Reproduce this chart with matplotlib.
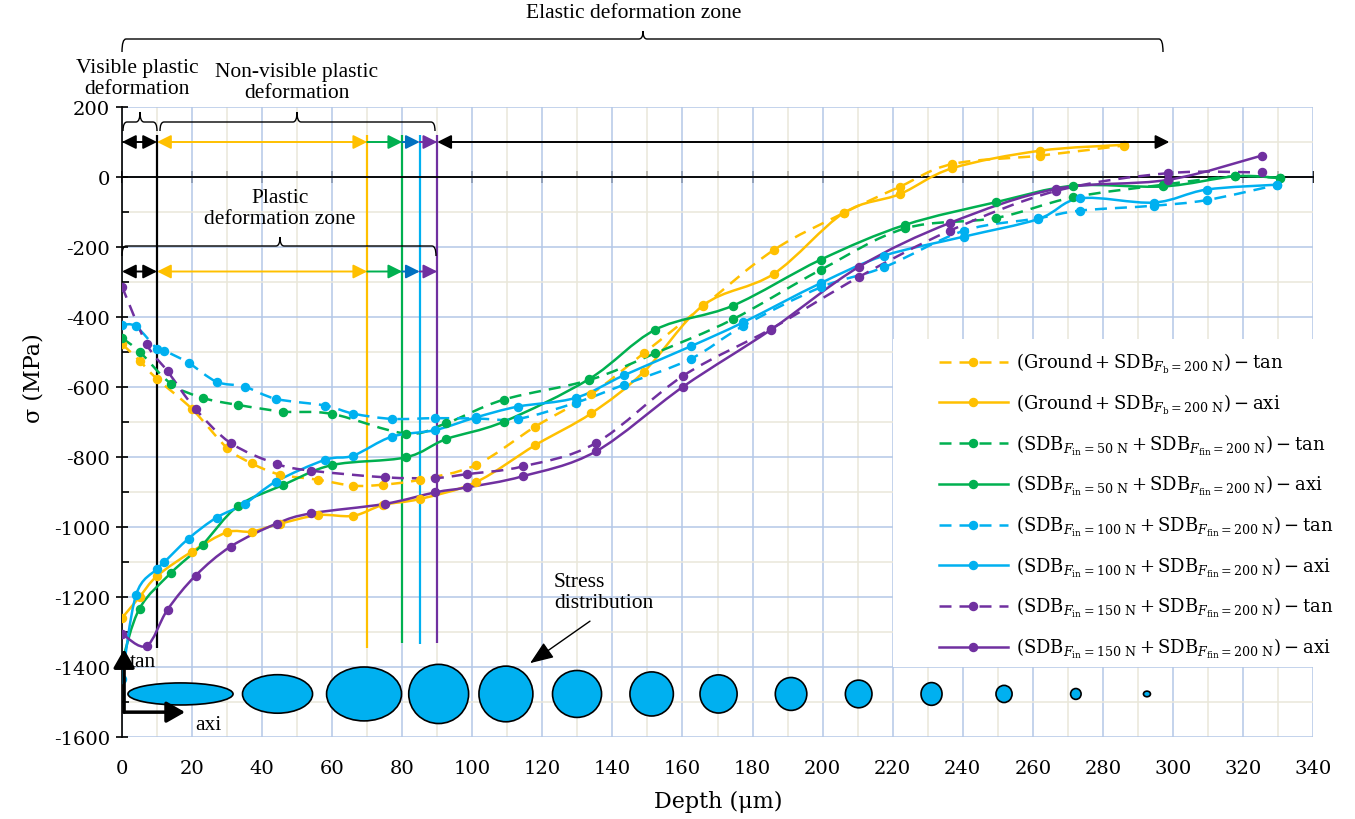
import numpy as np
import matplotlib
matplotlib.use("Agg")
import matplotlib.pyplot as plt
from matplotlib.path import Path
from matplotlib.patches import PathPatch, Ellipse, Rectangle
from matplotlib.lines import Line2D

plt.rcParams['font.family'] = 'DejaVu Serif'
plt.rcParams['mathtext.fontset'] = 'dejavuserif'
plt.rcParams['axes.unicode_minus'] = False

# ---- data (depth in um, residual stress in MPa) ----
ground_x = [0, 5, 10, 20, 30, 37, 45, 56, 66, 74.5, 85, 101, 118, 134, 149, 166,
            186, 206, 222, 237, 262, 286]
ground_tan = [-477, -525, -577, -663, -774, -818, -850, -865, -882, -879, -865, -823,
              -713, -620, -503, -368, -209, -103, -28, 37, 61, 90]
ground_axi = [-1260, -1200, -1140, -1070, -1015, -1013, -991, -966, -968, -937, -920,
              -872, -766, -675, -556, -366, -277, -103, -49, 25, 75, 92]

f50_x = [0, 5, 14, 23, 33, 46, 60, 81, 92.5, 109, 133.4, 152.3, 174.3, 199.5, 223.5,
         249.5, 271.5, 297.3, 317.7, 330.6]
f50_tan = [-460, -499, -591, -631, -651, -670, -677, -733, -704, -636, -580, -503, -407,
           -265, -147, -117, -58, -22, 2, -3]
f50_axi = [-1385, -1233, -1131, -1050, -941, -880, -823, -801, -749, -699, -577, -436,
           -368, -236, -137, -72, -25, -27, 2, -3]

f100_x = [0, 4, 10, 12, 19, 27, 35, 44, 58, 66, 77, 89.4, 101, 113, 129.5, 143.4, 162.3,
          177.4, 199.5, 217.5, 240.5, 261.6, 273.5, 294.6, 309.6, 329.6]
f100_tan = [-422, -427, -491, -496, -531, -585, -599, -634, -653, -676, -691, -689, -690,
            -691, -645, -593, -520, -425, -315, -258, -153, -118, -96, -82, -66, -23]
f100_axi = [-1435, -1194, -1120, -1101, -1033, -973, -934, -870, -808, -796, -742, -723,
            -687, -656, -631, -566, -484, -415, -303, -225, -170, -120, -61, -73, -36, -22]

f150_x = [0, 7, 13, 21, 31, 44.2, 54, 75, 89.4, 98.4, 114.4, 135.3, 160.2, 185.3, 210.5,
          236.4, 266.6, 298.7, 325.3]
f150_tan = [-313, -477, -555, -663, -760, -820, -839, -858, -860, -849, -827, -760, -568,
            -434, -285, -153, -40, 11, 13]
f150_axi = [-1305, -1340, -1236, -1139, -1056, -990, -961, -934, -901, -887, -855, -784,
            -599, -436, -256, -131, -34, -8, 61]

# zone limits (um)
zone_x = [10, 70, 80, 85, 90]
zone_colors = ['black', '#FFC000', '#00B050', '#00B0F0', '#7030A0']
zone_bottom = [-1345, -1345, -1330, -1333, -1330]
elastic_end = 299

# stress distribution ellipses
ell_x = [16.7, 44.4, 69.1, 90.4, 109.6, 129.9, 151.2, 170.3, 191, 210.3, 231.1, 251.8, 272.3, 292.6]
ell_w = [30.0, 20.0, 21.4, 17.1, 15.4, 14.0, 12.4, 10.6, 9.0, 7.6, 6.0, 4.6, 3.0, 2.0]
ell_h = [63, 110, 154, 169, 159, 134, 126, 109, 94, 79, 65, 49, 31, 16]

YEL, GRN, CYA, PUR, BLU = '#FFC000', '#00B050', '#00B0F0', '#7030A0', '#0070C0'
DASH = (0, (4.8, 3.2))
SERIF = 'Liberation Serif'

W, H = 1355, 820


def fpx(x, y):
    # reference pixel (top-left origin) -> figure fraction
    return (x / W, 1 - y / H)


def smooth_path(xs, ys):
    # Excel-like smoothed line (Catmull-Rom as cubic Bezier)
    p = np.column_stack([xs, ys]).astype(float)
    verts, codes = [p[0]], [Path.MOVETO]
    n = len(p)
    for i in range(n - 1):
        p0 = p[max(i - 1, 0)]
        p1, p2 = p[i], p[i + 1]
        p3 = p[min(i + 2, n - 1)]
        verts += [p1 + (p2 - p0) / 6, p2 - (p3 - p1) / 6, p2]
        codes += [Path.CURVE4] * 3
    return Path(verts, codes)


def brace(fig, x0, x1, xm, y_line, y_end, y_tip, r):
    pts = [(x0, y_end), (x0, y_line), (x0 + r, y_line), (xm - r, y_line),
           (xm, y_line), (xm, y_tip), (xm, y_line), (xm + r, y_line),
           (x1 - r, y_line), (x1, y_line), (x1, y_end)]
    codes = [Path.MOVETO, Path.CURVE3, Path.CURVE3, Path.LINETO,
             Path.CURVE3, Path.CURVE3, Path.CURVE3, Path.CURVE3,
             Path.LINETO, Path.CURVE3, Path.CURVE3]
    path = Path([fpx(*q) for q in pts], codes)
    fig.add_artist(PathPatch(path, transform=fig.transFigure, fc='none',
                             ec='black', lw=1.0, zorder=6))


fig = plt.figure(figsize=(W / 100, H / 100), dpi=100)
ax = fig.add_axes([122 / W, 82 / H, 1191 / W, 630 / H])
ax.set_xlim(0, 340)
ax.set_ylim(-1600, 200)

ax.set_xticks(np.arange(0, 341, 20))
ax.set_xticks(np.arange(0, 341, 10), minor=True)
ax.set_yticks(np.arange(-1600, 201, 200))
ax.set_yticks(np.arange(-1600, 201, 100), minor=True)
ax.set_axisbelow(True)
ax.grid(which='minor', color='#EAE7DA', lw=1.1)
ax.grid(which='major', color='#B4C7E7', lw=1.1)
for s in ['top', 'right', 'bottom']:
    ax.spines[s].set_visible(False)
ax.spines['left'].set_linewidth(1.2)
ax.tick_params(axis='x', which='both', length=0, labelsize=14, pad=16)
ax.tick_params(axis='y', which='major', direction='inout', length=9, width=1.2, labelsize=14, pad=4)
ax.tick_params(axis='y', which='minor', direction='in', length=5, width=1.2)

# x axis line at sigma = 0
ax.axhline(0, color='black', lw=1.3, zorder=2.5)
sec = ax.secondary_xaxis(1600 / 1800)
sec.set_xticks(np.arange(0, 341, 20))
sec.set_xticks(np.arange(0, 341, 10), minor=True)
sec.spines['top'].set_linewidth(1.3)
sec.spines['top'].set_color('black')
sec.tick_params(which='major', direction='inout', length=9, width=1.2, labeltop=False, labelbottom=False)
sec.tick_params(which='minor', direction='out', length=4, width=1.2)

ax.set_xlabel('Depth (μm)', fontsize=16)
ax.xaxis.set_label_coords(0.5004, -0.1016)
ax.xaxis.label.set_va('center')
ax.set_ylabel('σ (MPa)', fontsize=16)
ax.yaxis.set_label_coords(-0.0747, 0.571)
ax.yaxis.label.set_va('center')

# zone boundaries and arrows
for zx, zc, zb in zip(zone_x, zone_colors, zone_bottom):
    ax.plot([zx, zx], [zb, 120], color=zc, lw=1.6, zorder=2, solid_capstyle='butt')


def harrow(x0, x1, y, color, style):
    ax.annotate('', xy=(x1, y), xytext=(x0, y),
                arrowprops=dict(arrowstyle=style + ',head_length=0.7,head_width=0.35',
                                color=color, lw=1.4, shrinkA=0, shrinkB=0,
                                mutation_scale=12), zorder=5)


for yrow in [100, -270]:
    harrow(0, 10, yrow, 'black', '<|-|>')
    harrow(10, 70, yrow, YEL, '<|-|>')
    harrow(70, 80, yrow, GRN, '-|>')
    harrow(80, 85, yrow, BLU, '-|>')
    harrow(85, 90, yrow, PUR, '-|>')
harrow(90, elastic_end, 100, 'black', '<|-|>')

# curves
series = [
    (ground_x, ground_tan, YEL, True), (ground_x, ground_axi, YEL, False),
    (f50_x, f50_tan, GRN, True), (f50_x, f50_axi, GRN, False),
    (f100_x, f100_tan, CYA, True), (f100_x, f100_axi, CYA, False),
    (f150_x, f150_tan, PUR, True), (f150_x, f150_axi, PUR, False),
]
for xs, ys, c, dashed in series:
    ax.add_patch(PathPatch(smooth_path(xs, ys), fc='none', ec=c, lw=1.8,
                           ls=DASH if dashed else '-', zorder=3))
    ax.plot(xs, ys, 'o', color=c, ms=5.8, zorder=4)

# stress distribution ellipses
for ex, ew, eh in zip(ell_x, ell_w, ell_h):
    ax.add_patch(Ellipse((ex, -1477), ew, eh, fc=CYA, ec='black', lw=1.2, zorder=3))

# tan / axi direction arrows
ax.annotate('', xy=(0.6, -1349), xytext=(0.6, -1529),
            arrowprops=dict(arrowstyle='-|>,head_length=0.7,head_width=0.4', color='black',
                            lw=2.5, shrinkA=0, shrinkB=0, mutation_scale=16), zorder=6)
ax.annotate('', xy=(18, -1529), xytext=(0.6, -1529),
            arrowprops=dict(arrowstyle='-|>,head_length=0.7,head_width=0.4', color='black',
                            lw=2.5, shrinkA=0, shrinkB=0, mutation_scale=16), zorder=6)
ax.text(2.3, -1383, 'tan', family=SERIF, fontsize=15.5, ha='left', va='center', zorder=6)
ax.text(20.8, -1563, 'axi', family=SERIF, fontsize=15.5, ha='left', va='center', zorder=6)

# stress distribution label
ax.annotate('', xy=(116.5, -1389), xytext=(133.6, -1269),
            arrowprops=dict(arrowstyle='-|>,head_length=0.9,head_width=0.35', color='black',
                            lw=1.0, shrinkA=0, shrinkB=0, mutation_scale=16), zorder=6)
ax.text(123.3, -1186, 'Stress\ndistribution', family=SERIF, fontsize=15.5,
        ha='left', va='center', linespacing=1.2, zorder=6)

# braces and zone titles
brace(fig, 122, 1163, 643, 40, 53, 32, 4)
brace(fig, 123, 157, 140, 123, 132, 113, 4)
brace(fig, 160, 435, 297, 123, 132, 113, 4)
brace(fig, 122, 436, 280, 247, 257, 238, 4)
fig.text(*fpx(634, 14), 'Elastic deformation zone', family=SERIF, fontsize=15.5,
         ha='center', va='center')
fig.text(*fpx(137, 79), 'Visible plastic\ndeformation', family=SERIF, fontsize=15.5,
         ha='center', va='center', linespacing=1.1)
fig.text(*fpx(297, 83), 'Non-visible plastic\ndeformation', family=SERIF, fontsize=15.5,
         ha='center', va='center', linespacing=1.1)
fig.text(*fpx(280, 209), 'Plastic\ndeformation zone', family=SERIF, fontsize=15.5,
         ha='center', va='center', linespacing=1.1)

# legend on a white panel
fig.add_artist(Rectangle(fpx(893, 668), (1350 - 893) / W, (668 - 340) / H,
                         transform=fig.transFigure, fc='white', ec='none', zorder=1))
labels = [
    r'$(\mathrm{Ground}+\mathrm{SDB}_{F_{\mathrm{b}}=200\ \mathrm{N}})-\mathrm{tan}$',
    r'$(\mathrm{Ground}+\mathrm{SDB}_{F_{\mathrm{b}}=200\ \mathrm{N}})-\mathrm{axi}$',
    r'$(\mathrm{SDB}_{F_{\mathrm{in}}=50\ \mathrm{N}}+\mathrm{SDB}_{F_{\mathrm{fin}}=200\ \mathrm{N}})-\mathrm{tan}$',
    r'$(\mathrm{SDB}_{F_{\mathrm{in}}=50\ \mathrm{N}}+\mathrm{SDB}_{F_{\mathrm{fin}}=200\ \mathrm{N}})-\mathrm{axi}$',
    r'$(\mathrm{SDB}_{F_{\mathrm{in}}=100\ \mathrm{N}}+\mathrm{SDB}_{F_{\mathrm{fin}}=200\ \mathrm{N}})-\mathrm{tan}$',
    r'$(\mathrm{SDB}_{F_{\mathrm{in}}=100\ \mathrm{N}}+\mathrm{SDB}_{F_{\mathrm{fin}}=200\ \mathrm{N}})-\mathrm{axi}$',
    r'$(\mathrm{SDB}_{F_{\mathrm{in}}=150\ \mathrm{N}}+\mathrm{SDB}_{F_{\mathrm{fin}}=200\ \mathrm{N}})-\mathrm{tan}$',
    r'$(\mathrm{SDB}_{F_{\mathrm{in}}=150\ \mathrm{N}}+\mathrm{SDB}_{F_{\mathrm{fin}}=200\ \mathrm{N}})-\mathrm{axi}$',
]
handles = [Line2D([], [], color=c, lw=1.8, ls=DASH if d else '-', marker='o', ms=5.8)
           for _, _, c, d in series]
fig.legend(handles, labels, loc='upper left', bbox_to_anchor=fpx(939, 352),
           frameon=False, fontsize=13, handlelength=3.8, handletextpad=0.45,
           labelspacing=0.92, borderaxespad=0, borderpad=0, numpoints=1)

fig.savefig('out.png', dpi=100, facecolor='white')
